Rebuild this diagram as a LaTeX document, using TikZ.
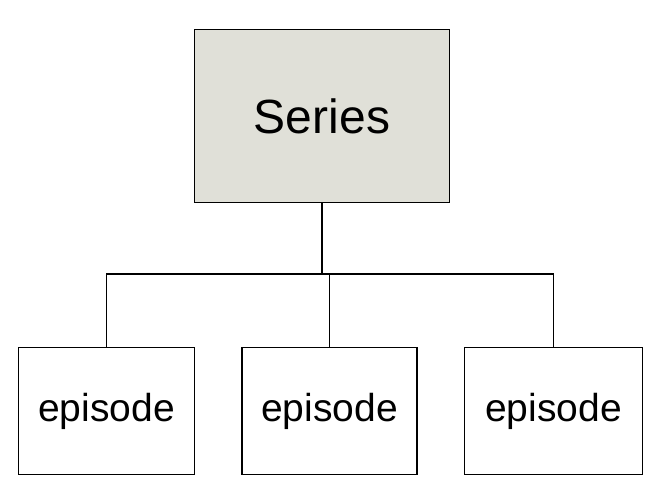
\documentclass[tikz,border=0pt]{standalone}
\usepackage{fontspec}
\setmainfont{Liberation Sans}
\definecolor{seriesfill}{HTML}{E0E0D8}
\begin{document}
\begin{tikzpicture}[x=1pt,y=-1pt,
  box/.style={draw=black,line width=1.6pt,inner sep=0pt,fill=white},
  link/.style={draw=black,line width=1.6pt}]
\useasboundingbox (0,0) rectangle (662,500);
\node[box,fill=seriesfill,minimum width=255pt,minimum height=173pt,font=\fontsize{48}{56}\selectfont] (S) at (322,116) {Series};
\node[box,minimum width=176pt,minimum height=127pt,font=\fontsize{39}{46}\selectfont] (E1) at (106.5,411) {episode};
\node[box,minimum width=175pt,minimum height=127pt,font=\fontsize{39}{46}\selectfont] (E2) at (329.5,411) {episode};
\node[box,minimum width=178pt,minimum height=127pt,font=\fontsize{39}{46}\selectfont] (E3) at (553.5,411) {episode};
\coordinate (bus) at (322.5,274);
\draw[link] (S.south) -- (S.south |- bus);
\draw[link] (E1.north) |- (bus) -| (E3.north);
\draw[link] (E2.north) -- (E2.north |- bus);
\end{tikzpicture}
\end{document}
